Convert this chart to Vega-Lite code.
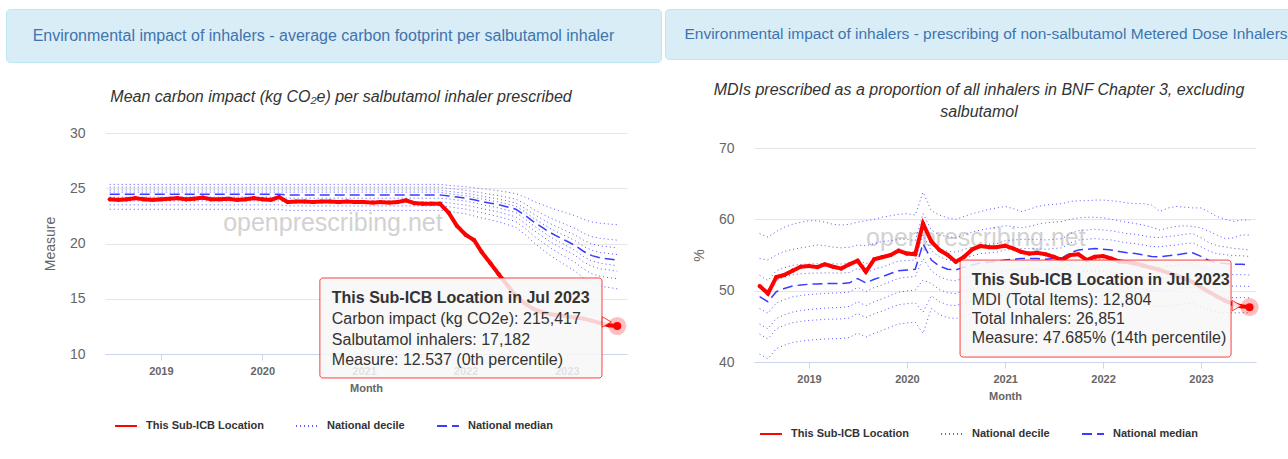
{
  "$schema": "https://vega.github.io/schema/vega-lite/v6.json",
  "padding": {"left": 5, "top": 8, "right": 0, "bottom": 0},
  "background": "white",
  "config": {
    "font": "Liberation Sans",
    "view": {"stroke": null},
    "concat": {"spacing": 2},
    "axisX": {"grid": false, "domainColor": "#ccd6eb", "tickColor": "#ccd6eb", "tickSize": 6, "labelFontSize": 11, "labelFontWeight": "bold", "labelColor": "#666666", "labelPadding": 5, "titleFontSize": 11, "titleFontWeight": "bold", "titleColor": "#666666", "titlePadding": 6, "labelFlush": false},
    "axisY": {"grid": true, "gridColor": "#e6e6e6", "domain": false, "ticks": false, "tickSize": 0, "labelFontSize": 14, "labelColor": "#666666", "labelPadding": 20, "titleFontSize": 14, "titleFontWeight": "normal", "titleColor": "#666666", "titlePadding": 12, "labelFlush": false},
    "legend": {"orient": "bottom", "direction": "horizontal", "offset": 21, "layout": {"bottom": {"anchor": "middle"}}, "labelFontSize": 11, "labelFontWeight": "bold", "labelColor": "#333333", "symbolType": "stroke", "symbolSize": 480, "symbolStrokeWidth": 2, "columnPadding": 28, "labelOffset": 8},
    "title": {"fontStyle": "italic", "fontWeight": "normal", "fontSize": 16, "color": "#333333", "anchor": "middle"}
  },
  "resolve": {"scale": {"color": "independent", "strokeDash": "independent"}, "legend": {"color": "independent", "strokeDash": "independent"}},
  "datasets": {
    "L": [
      {"d":"2018-07-01","r":24.0,"p10":23.1,"p20":23.5,"p30":23.85,"p40":24.2,"p50":24.45,"p60":24.65,"p70":24.85,"p80":25.1,"p90":25.35},
      {"d":"2018-08-01","r":23.95,"p10":23.1,"p20":23.5,"p30":23.85,"p40":24.2,"p50":24.45,"p60":24.65,"p70":24.85,"p80":25.1,"p90":25.35},
      {"d":"2018-09-01","r":24.0,"p10":23.1,"p20":23.5,"p30":23.85,"p40":24.2,"p50":24.45,"p60":24.65,"p70":24.85,"p80":25.1,"p90":25.35},
      {"d":"2018-10-01","r":24.1,"p10":23.1,"p20":23.5,"p30":23.85,"p40":24.2,"p50":24.45,"p60":24.65,"p70":24.85,"p80":25.1,"p90":25.35},
      {"d":"2018-11-01","r":24.0,"p10":23.1,"p20":23.5,"p30":23.85,"p40":24.2,"p50":24.45,"p60":24.65,"p70":24.85,"p80":25.1,"p90":25.35},
      {"d":"2018-12-01","r":23.95,"p10":23.1,"p20":23.5,"p30":23.85,"p40":24.2,"p50":24.45,"p60":24.65,"p70":24.85,"p80":25.1,"p90":25.35},
      {"d":"2019-01-01","r":24.0,"p10":23.1,"p20":23.5,"p30":23.85,"p40":24.2,"p50":24.45,"p60":24.65,"p70":24.85,"p80":25.1,"p90":25.35},
      {"d":"2019-02-01","r":24.05,"p10":23.1,"p20":23.5,"p30":23.85,"p40":24.2,"p50":24.45,"p60":24.65,"p70":24.85,"p80":25.1,"p90":25.35},
      {"d":"2019-03-01","r":24.1,"p10":23.1,"p20":23.5,"p30":23.85,"p40":24.2,"p50":24.45,"p60":24.65,"p70":24.85,"p80":25.1,"p90":25.35},
      {"d":"2019-04-01","r":24.0,"p10":23.1,"p20":23.5,"p30":23.85,"p40":24.2,"p50":24.45,"p60":24.65,"p70":24.85,"p80":25.1,"p90":25.35},
      {"d":"2019-05-01","r":24.05,"p10":23.1,"p20":23.5,"p30":23.85,"p40":24.2,"p50":24.45,"p60":24.65,"p70":24.85,"p80":25.1,"p90":25.35},
      {"d":"2019-06-01","r":24.15,"p10":23.1,"p20":23.5,"p30":23.85,"p40":24.2,"p50":24.45,"p60":24.65,"p70":24.85,"p80":25.1,"p90":25.35},
      {"d":"2019-07-01","r":24.0,"p10":23.1,"p20":23.5,"p30":23.85,"p40":24.2,"p50":24.45,"p60":24.65,"p70":24.85,"p80":25.1,"p90":25.35},
      {"d":"2019-08-01","r":24.0,"p10":23.1,"p20":23.5,"p30":23.85,"p40":24.2,"p50":24.45,"p60":24.65,"p70":24.85,"p80":25.1,"p90":25.35},
      {"d":"2019-09-01","r":24.05,"p10":23.1,"p20":23.5,"p30":23.85,"p40":24.2,"p50":24.45,"p60":24.65,"p70":24.85,"p80":25.1,"p90":25.35},
      {"d":"2019-10-01","r":23.95,"p10":23.1,"p20":23.5,"p30":23.85,"p40":24.2,"p50":24.45,"p60":24.65,"p70":24.85,"p80":25.1,"p90":25.35},
      {"d":"2019-11-01","r":24.0,"p10":23.1,"p20":23.5,"p30":23.85,"p40":24.2,"p50":24.45,"p60":24.65,"p70":24.85,"p80":25.1,"p90":25.35},
      {"d":"2019-12-01","r":24.1,"p10":23.1,"p20":23.5,"p30":23.85,"p40":24.2,"p50":24.45,"p60":24.65,"p70":24.85,"p80":25.1,"p90":25.35},
      {"d":"2020-01-01","r":24.0,"p10":23.1,"p20":23.5,"p30":23.85,"p40":24.2,"p50":24.45,"p60":24.65,"p70":24.85,"p80":25.1,"p90":25.35},
      {"d":"2020-02-01","r":23.95,"p10":23.1,"p20":23.5,"p30":23.85,"p40":24.2,"p50":24.45,"p60":24.65,"p70":24.85,"p80":25.1,"p90":25.35},
      {"d":"2020-03-01","r":24.2,"p10":23.1,"p20":23.5,"p30":23.85,"p40":24.2,"p50":24.45,"p60":24.65,"p70":24.85,"p80":25.1,"p90":25.35},
      {"d":"2020-04-01","r":23.75,"p10":23.0,"p20":23.4,"p30":23.75,"p40":24.1,"p50":24.4,"p60":24.65,"p70":24.85,"p80":25.1,"p90":25.35},
      {"d":"2020-05-01","r":23.8,"p10":23.0,"p20":23.4,"p30":23.75,"p40":24.1,"p50":24.4,"p60":24.65,"p70":24.85,"p80":25.1,"p90":25.35},
      {"d":"2020-06-01","r":23.8,"p10":23.0,"p20":23.4,"p30":23.75,"p40":24.1,"p50":24.4,"p60":24.65,"p70":24.85,"p80":25.1,"p90":25.35},
      {"d":"2020-07-01","r":23.75,"p10":23.0,"p20":23.4,"p30":23.75,"p40":24.1,"p50":24.4,"p60":24.65,"p70":24.85,"p80":25.1,"p90":25.35},
      {"d":"2020-08-01","r":23.8,"p10":23.0,"p20":23.4,"p30":23.75,"p40":24.1,"p50":24.4,"p60":24.65,"p70":24.85,"p80":25.1,"p90":25.35},
      {"d":"2020-09-01","r":23.8,"p10":23.0,"p20":23.4,"p30":23.75,"p40":24.1,"p50":24.4,"p60":24.65,"p70":24.85,"p80":25.1,"p90":25.35},
      {"d":"2020-10-01","r":23.75,"p10":23.0,"p20":23.4,"p30":23.75,"p40":24.1,"p50":24.4,"p60":24.65,"p70":24.85,"p80":25.1,"p90":25.35},
      {"d":"2020-11-01","r":23.8,"p10":23.0,"p20":23.4,"p30":23.75,"p40":24.1,"p50":24.4,"p60":24.65,"p70":24.85,"p80":25.1,"p90":25.35},
      {"d":"2020-12-01","r":23.75,"p10":23.0,"p20":23.4,"p30":23.75,"p40":24.1,"p50":24.4,"p60":24.65,"p70":24.85,"p80":25.1,"p90":25.35},
      {"d":"2021-01-01","r":23.75,"p10":23.0,"p20":23.4,"p30":23.75,"p40":24.1,"p50":24.4,"p60":24.65,"p70":24.85,"p80":25.1,"p90":25.35},
      {"d":"2021-02-01","r":23.7,"p10":23.0,"p20":23.4,"p30":23.75,"p40":24.1,"p50":24.4,"p60":24.65,"p70":24.85,"p80":25.1,"p90":25.35},
      {"d":"2021-03-01","r":23.75,"p10":23.0,"p20":23.4,"p30":23.75,"p40":24.1,"p50":24.4,"p60":24.65,"p70":24.85,"p80":25.1,"p90":25.35},
      {"d":"2021-04-01","r":23.7,"p10":23.0,"p20":23.4,"p30":23.75,"p40":24.1,"p50":24.4,"p60":24.65,"p70":24.85,"p80":25.1,"p90":25.35},
      {"d":"2021-05-01","r":23.75,"p10":23.0,"p20":23.4,"p30":23.75,"p40":24.1,"p50":24.4,"p60":24.65,"p70":24.85,"p80":25.1,"p90":25.35},
      {"d":"2021-06-01","r":23.9,"p10":23.0,"p20":23.4,"p30":23.75,"p40":24.1,"p50":24.4,"p60":24.65,"p70":24.85,"p80":25.1,"p90":25.35},
      {"d":"2021-07-01","r":23.65,"p10":23.0,"p20":23.4,"p30":23.75,"p40":24.1,"p50":24.4,"p60":24.65,"p70":24.85,"p80":25.1,"p90":25.35},
      {"d":"2021-08-01","r":23.6,"p10":23.0,"p20":23.4,"p30":23.75,"p40":24.1,"p50":24.4,"p60":24.65,"p70":24.85,"p80":25.1,"p90":25.35},
      {"d":"2021-09-01","r":23.6,"p10":23.0,"p20":23.4,"p30":23.75,"p40":24.1,"p50":24.4,"p60":24.65,"p70":24.85,"p80":25.1,"p90":25.35},
      {"d":"2021-10-01","r":23.6,"p10":23.0,"p20":23.4,"p30":23.75,"p40":24.1,"p50":24.4,"p60":24.65,"p70":24.85,"p80":25.1,"p90":25.35},
      {"d":"2021-11-01","r":22.8,"p10":22.92,"p20":23.33,"p30":23.69,"p40":24.04,"p50":24.3,"p60":24.51,"p70":24.72,"p80":24.98,"p90":25.26},
      {"d":"2021-12-01","r":21.6,"p10":22.8,"p20":23.22,"p30":23.58,"p40":23.94,"p50":24.2,"p60":24.41,"p70":24.63,"p80":24.9,"p90":25.2},
      {"d":"2022-01-01","r":20.8,"p10":22.68,"p20":23.11,"p30":23.48,"p40":23.84,"p50":24.1,"p60":24.32,"p70":24.54,"p80":24.82,"p90":25.14},
      {"d":"2022-02-01","r":20.3,"p10":22.49,"p20":22.94,"p30":23.32,"p40":23.68,"p50":23.95,"p60":24.17,"p70":24.41,"p80":24.7,"p90":25.04},
      {"d":"2022-03-01","r":19.2,"p10":22.31,"p20":22.77,"p30":23.16,"p40":23.52,"p50":23.8,"p60":24.03,"p70":24.28,"p80":24.58,"p90":24.95},
      {"d":"2022-04-01","r":18.2,"p10":22.13,"p20":22.6,"p30":23.0,"p40":23.37,"p50":23.65,"p60":23.89,"p70":24.14,"p80":24.45,"p90":24.86},
      {"d":"2022-05-01","r":17.2,"p10":21.95,"p20":22.43,"p30":22.84,"p40":23.21,"p50":23.5,"p60":23.75,"p70":24.01,"p80":24.33,"p90":24.77},
      {"d":"2022-06-01","r":16.2,"p10":21.71,"p20":22.21,"p30":22.62,"p40":23.0,"p50":23.3,"p60":23.56,"p70":23.84,"p80":24.17,"p90":24.65},
      {"d":"2022-07-01","r":15.3,"p10":21.47,"p20":21.98,"p30":22.41,"p40":22.79,"p50":23.1,"p60":23.37,"p70":23.66,"p80":24.01,"p90":24.52},
      {"d":"2022-08-01","r":14.6,"p10":20.86,"p20":21.42,"p30":21.88,"p40":22.27,"p50":22.6,"p60":22.89,"p70":23.22,"p80":23.61,"p90":24.22},
      {"d":"2022-09-01","r":14.1,"p10":20.14,"p20":20.74,"p30":21.24,"p40":21.65,"p50":22.0,"p60":22.32,"p70":22.69,"p80":23.12,"p90":23.85},
      {"d":"2022-10-01","r":13.8,"p10":19.53,"p20":20.18,"p30":20.7,"p40":21.13,"p50":21.5,"p60":21.85,"p70":22.25,"p80":22.72,"p90":23.54},
      {"d":"2022-11-01","r":13.6,"p10":18.93,"p20":19.62,"p30":20.17,"p40":20.61,"p50":21.0,"p60":21.37,"p70":21.81,"p80":22.32,"p90":23.24},
      {"d":"2022-12-01","r":13.5,"p10":18.44,"p20":19.16,"p30":19.74,"p40":20.19,"p50":20.6,"p60":20.99,"p70":21.45,"p80":21.99,"p90":22.99},
      {"d":"2023-01-01","r":13.4,"p10":17.96,"p20":18.71,"p30":19.32,"p40":19.77,"p50":20.2,"p60":20.61,"p70":21.1,"p80":21.67,"p90":22.74},
      {"d":"2023-02-01","r":13.3,"p10":17.47,"p20":18.26,"p30":18.89,"p40":19.35,"p50":19.8,"p60":20.23,"p70":20.75,"p80":21.35,"p90":22.5},
      {"d":"2023-03-01","r":13.2,"p10":16.87,"p20":17.7,"p30":18.35,"p40":18.83,"p50":19.3,"p60":19.76,"p70":20.31,"p80":20.94,"p90":22.19},
      {"d":"2023-04-01","r":13.0,"p10":16.38,"p20":17.25,"p30":17.93,"p40":18.42,"p50":18.9,"p60":19.38,"p70":19.95,"p80":20.62,"p90":21.95},
      {"d":"2023-05-01","r":12.8,"p10":16.14,"p20":17.03,"p30":17.71,"p40":18.21,"p50":18.7,"p60":19.19,"p70":19.78,"p80":20.46,"p90":21.83},
      {"d":"2023-06-01","r":12.6,"p10":16.02,"p20":16.91,"p30":17.61,"p40":18.1,"p50":18.6,"p60":19.09,"p70":19.69,"p80":20.38,"p90":21.76},
      {"d":"2023-07-01","r":12.537,"p10":15.9,"p20":16.8,"p30":17.5,"p40":18.0,"p50":18.5,"p60":19.0,"p70":19.6,"p80":20.3,"p90":21.7}
    ],
    "R": [
      {"d":"2018-07-01","r":50.65,"p10":41.1,"p20":43.9,"p30":45.3,"p40":47.5,"p50":49.15,"p60":50.8,"p70":52.15,"p80":54.5,"p90":58.0},
      {"d":"2018-08-01","r":49.6,"p10":40.43,"p20":43.23,"p30":44.65,"p40":46.83,"p50":48.45,"p60":50.08,"p70":51.42,"p80":54.3,"p90":57.5},
      {"d":"2018-09-01","r":51.9,"p10":41.87,"p20":44.66,"p30":46.1,"p40":48.27,"p50":49.85,"p60":51.46,"p70":52.8,"p80":55.0,"p90":58.3},
      {"d":"2018-10-01","r":52.2,"p10":42.35,"p20":45.14,"p30":46.6,"p40":48.75,"p50":50.3,"p60":51.89,"p70":53.22,"p80":55.5,"p90":58.9},
      {"d":"2018-11-01","r":52.8,"p10":42.74,"p20":45.52,"p30":47.0,"p40":49.14,"p50":50.65,"p60":52.23,"p70":53.55,"p80":55.8,"p90":59.3},
      {"d":"2018-12-01","r":53.35,"p10":42.92,"p20":45.69,"p30":47.2,"p40":49.32,"p50":50.8,"p60":52.36,"p70":53.67,"p80":56.0,"p90":59.6},
      {"d":"2019-01-01","r":53.45,"p10":43.06,"p20":45.82,"p30":47.35,"p40":49.46,"p50":50.9,"p60":52.44,"p70":53.74,"p80":56.2,"p90":59.8},
      {"d":"2019-02-01","r":53.3,"p10":43.14,"p20":45.9,"p30":47.45,"p40":49.54,"p50":50.95,"p60":52.47,"p70":53.77,"p80":56.4,"p90":59.8},
      {"d":"2019-03-01","r":53.7,"p10":43.22,"p20":45.98,"p30":47.55,"p40":49.62,"p50":51.0,"p60":52.5,"p70":53.79,"p80":56.3,"p90":59.6},
      {"d":"2019-04-01","r":53.35,"p10":43.26,"p20":46.01,"p30":47.6,"p40":49.66,"p50":51.0,"p60":52.48,"p70":53.76,"p80":56.1,"p90":59.3},
      {"d":"2019-05-01","r":53.1,"p10":43.29,"p20":46.04,"p30":47.65,"p40":49.69,"p50":51.0,"p60":52.47,"p70":53.74,"p80":56.0,"p90":59.2},
      {"d":"2019-06-01","r":53.7,"p10":43.43,"p20":46.17,"p30":47.8,"p40":49.83,"p50":51.1,"p60":52.55,"p70":53.81,"p80":56.1,"p90":59.3},
      {"d":"2019-07-01","r":54.2,"p10":44.06,"p20":46.8,"p30":48.45,"p40":50.46,"p50":51.7,"p60":53.13,"p70":54.38,"p80":56.4,"p90":59.6},
      {"d":"2019-08-01","r":52.65,"p10":43.49,"p20":46.23,"p30":47.9,"p40":49.89,"p50":51.1,"p60":52.51,"p70":53.76,"p80":56.3,"p90":59.8},
      {"d":"2019-09-01","r":54.4,"p10":44.03,"p20":46.76,"p30":48.45,"p40":50.43,"p50":51.6,"p60":52.99,"p70":54.23,"p80":56.6,"p90":60.0},
      {"d":"2019-10-01","r":54.7,"p10":44.41,"p20":47.13,"p30":48.85,"p40":50.81,"p50":51.95,"p60":53.32,"p70":54.56,"p80":56.9,"p90":60.3},
      {"d":"2019-11-01","r":55.0,"p10":44.9,"p20":47.61,"p30":49.35,"p40":51.3,"p50":52.4,"p60":53.76,"p70":54.98,"p80":57.0,"p90":60.5},
      {"d":"2019-12-01","r":55.6,"p10":45.33,"p20":48.04,"p30":49.8,"p40":51.73,"p50":52.8,"p60":54.14,"p70":55.35,"p80":57.2,"p90":60.7},
      {"d":"2020-01-01","r":55.2,"p10":45.47,"p20":48.17,"p30":49.95,"p40":51.87,"p50":52.9,"p60":54.22,"p70":55.43,"p80":57.2,"p90":60.8},
      {"d":"2020-02-01","r":55.1,"p10":45.6,"p20":48.3,"p30":50.1,"p40":52.0,"p50":53.0,"p60":54.3,"p70":55.5,"p80":57.0,"p90":60.6},
      {"d":"2020-03-01","r":59.4,"p10":44.0,"p20":47.0,"p30":51.5,"p40":54.5,"p50":56.6,"p60":57.8,"p70":59.0,"p80":60.8,"p90":63.8},
      {"d":"2020-04-01","r":56.9,"p10":47.5,"p20":49.3,"p30":51.0,"p40":52.8,"p50":54.3,"p60":55.6,"p70":56.8,"p80":58.5,"p90":61.2},
      {"d":"2020-05-01","r":55.7,"p10":46.65,"p20":48.45,"p30":50.15,"p40":51.95,"p50":53.45,"p60":54.75,"p70":55.95,"p80":57.8,"p90":60.6},
      {"d":"2020-06-01","r":55.0,"p10":46.2,"p20":48.0,"p30":49.7,"p40":51.5,"p50":53.0,"p60":54.3,"p70":55.5,"p80":57.6,"p90":60.2},
      {"d":"2020-07-01","r":54.05,"p10":46.1,"p20":47.9,"p30":49.6,"p40":51.4,"p50":52.9,"p60":54.2,"p70":55.4,"p80":57.4,"p90":60.0},
      {"d":"2020-08-01","r":54.75,"p10":46.5,"p20":48.3,"p30":50.0,"p40":51.8,"p50":53.3,"p60":54.6,"p70":55.8,"p80":57.8,"p90":60.4},
      {"d":"2020-09-01","r":55.8,"p10":46.8,"p20":48.6,"p30":50.3,"p40":52.1,"p50":53.6,"p60":54.9,"p70":56.1,"p80":58.2,"p90":60.8},
      {"d":"2020-10-01","r":56.25,"p10":47.1,"p20":48.9,"p30":50.6,"p40":52.4,"p50":53.9,"p60":55.2,"p70":56.4,"p80":58.5,"p90":61.1},
      {"d":"2020-11-01","r":56.1,"p10":47.2,"p20":49.0,"p30":50.7,"p40":52.5,"p50":54.0,"p60":55.3,"p70":56.5,"p80":58.7,"p90":61.4},
      {"d":"2020-12-01","r":56.1,"p10":47.3,"p20":49.1,"p30":50.8,"p40":52.6,"p50":54.1,"p60":55.4,"p70":56.6,"p80":58.9,"p90":61.6},
      {"d":"2021-01-01","r":56.3,"p10":47.3,"p20":49.5,"p30":51.2,"p40":52.8,"p50":54.3,"p60":55.7,"p70":57.0,"p80":59.1,"p90":61.8},
      {"d":"2021-02-01","r":55.9,"p10":47.4,"p20":49.6,"p30":51.3,"p40":52.9,"p50":54.4,"p60":55.8,"p70":57.1,"p80":59.0,"p90":61.5},
      {"d":"2021-03-01","r":55.45,"p10":47.5,"p20":49.7,"p30":51.4,"p40":53.0,"p50":54.5,"p60":55.9,"p70":57.2,"p80":58.8,"p90":61.1},
      {"d":"2021-04-01","r":55.2,"p10":47.5,"p20":49.7,"p30":51.4,"p40":53.0,"p50":54.5,"p60":55.9,"p70":57.2,"p80":59.0,"p90":61.4},
      {"d":"2021-05-01","r":55.3,"p10":47.5,"p20":49.7,"p30":51.4,"p40":53.0,"p50":54.5,"p60":55.9,"p70":57.2,"p80":59.3,"p90":61.8},
      {"d":"2021-06-01","r":55.1,"p10":47.4,"p20":49.6,"p30":51.3,"p40":52.9,"p50":54.4,"p60":55.8,"p70":57.1,"p80":59.5,"p90":62.0},
      {"d":"2021-07-01","r":54.75,"p10":47.5,"p20":49.7,"p30":51.4,"p40":53.0,"p50":54.5,"p60":55.9,"p70":57.2,"p80":59.6,"p90":62.1},
      {"d":"2021-08-01","r":54.3,"p10":47.6,"p20":49.8,"p30":51.5,"p40":53.1,"p50":54.6,"p60":56.0,"p70":57.3,"p80":59.7,"p90":62.2},
      {"d":"2021-09-01","r":55.0,"p10":48.3,"p20":50.5,"p30":52.2,"p40":53.8,"p50":55.3,"p60":56.7,"p70":58.0,"p80":60.0,"p90":62.5},
      {"d":"2021-10-01","r":55.1,"p10":48.7,"p20":50.9,"p30":52.6,"p40":54.2,"p50":55.7,"p60":57.1,"p70":58.4,"p80":60.2,"p90":62.6},
      {"d":"2021-11-01","r":54.3,"p10":48.8,"p20":51.0,"p30":52.7,"p40":54.3,"p50":55.8,"p60":57.2,"p70":58.5,"p80":60.3,"p90":62.6},
      {"d":"2021-12-01","r":54.75,"p10":48.9,"p20":51.1,"p30":52.8,"p40":54.4,"p50":55.9,"p60":57.3,"p70":58.6,"p80":60.3,"p90":62.7},
      {"d":"2022-01-01","r":54.85,"p10":48.8,"p20":51.0,"p30":52.7,"p40":54.3,"p50":55.8,"p60":57.2,"p70":58.5,"p80":60.2,"p90":62.7},
      {"d":"2022-02-01","r":54.5,"p10":48.7,"p20":50.9,"p30":52.6,"p40":54.2,"p50":55.7,"p60":57.1,"p70":58.4,"p80":60.0,"p90":62.6},
      {"d":"2022-03-01","r":54.1,"p10":48.5,"p20":50.7,"p30":52.4,"p40":54.0,"p50":55.5,"p60":56.9,"p70":58.2,"p80":59.8,"p90":62.5},
      {"d":"2022-04-01","r":54.0,"p10":48.3,"p20":50.5,"p30":52.2,"p40":53.8,"p50":55.3,"p60":56.7,"p70":58.0,"p80":59.6,"p90":62.3},
      {"d":"2022-05-01","r":53.8,"p10":48.2,"p20":50.4,"p30":52.1,"p40":53.7,"p50":55.2,"p60":56.6,"p70":57.9,"p80":59.4,"p90":62.2},
      {"d":"2022-06-01","r":53.5,"p10":48.0,"p20":50.2,"p30":51.9,"p40":53.5,"p50":55.0,"p60":56.4,"p70":57.7,"p80":59.2,"p90":62.2},
      {"d":"2022-07-01","r":53.2,"p10":47.8,"p20":50.0,"p30":51.7,"p40":53.3,"p50":54.8,"p60":56.2,"p70":57.5,"p80":58.9,"p90":62.0},
      {"d":"2022-08-01","r":52.9,"p10":47.75,"p20":49.95,"p30":51.65,"p40":53.25,"p50":54.75,"p60":56.15,"p70":57.45,"p80":58.5,"p90":61.1},
      {"d":"2022-09-01","r":52.5,"p10":47.9,"p20":50.1,"p30":51.8,"p40":53.4,"p50":54.9,"p60":56.3,"p70":57.6,"p80":58.8,"p90":61.6},
      {"d":"2022-10-01","r":52.1,"p10":48.0,"p20":50.2,"p30":51.9,"p40":53.5,"p50":55.0,"p60":56.4,"p70":57.7,"p80":59.0,"p90":61.8},
      {"d":"2022-11-01","r":51.7,"p10":48.2,"p20":50.4,"p30":52.1,"p40":53.7,"p50":55.2,"p60":56.6,"p70":57.9,"p80":59.1,"p90":61.7},
      {"d":"2022-12-01","r":51.2,"p10":48.3,"p20":50.5,"p30":52.2,"p40":53.8,"p50":55.3,"p60":56.7,"p70":58.0,"p80":59.0,"p90":61.6},
      {"d":"2023-01-01","r":50.5,"p10":47.84,"p20":50.02,"p30":51.71,"p40":53.31,"p50":54.8,"p60":56.16,"p70":57.41,"p80":58.8,"p90":61.6},
      {"d":"2023-02-01","r":49.8,"p10":47.27,"p20":49.44,"p30":51.11,"p40":52.71,"p50":54.2,"p60":55.53,"p70":56.71,"p80":58.3,"p90":61.0},
      {"d":"2023-03-01","r":49.2,"p10":47.01,"p20":49.16,"p30":50.82,"p40":52.42,"p50":53.9,"p60":55.19,"p70":56.32,"p80":57.8,"p90":60.4},
      {"d":"2023-04-01","r":48.6,"p10":46.94,"p20":49.09,"p30":50.73,"p40":52.33,"p50":53.8,"p60":55.06,"p70":56.13,"p80":57.3,"p90":60.0},
      {"d":"2023-05-01","r":48.1,"p10":46.88,"p20":49.01,"p30":50.64,"p40":52.24,"p50":53.7,"p60":54.92,"p70":55.94,"p80":57.4,"p90":59.7},
      {"d":"2023-06-01","r":47.8,"p10":46.91,"p20":49.03,"p30":50.64,"p40":52.24,"p50":53.7,"p60":54.89,"p70":55.84,"p80":57.8,"p90":59.9},
      {"d":"2023-07-01","r":47.685,"p10":46.9,"p20":49.0,"p30":50.6,"p40":52.2,"p50":53.65,"p60":54.8,"p70":55.7,"p80":57.8,"p90":59.85}
    ]
  },
  "hconcat": [
    {
      "spacing": 26,
      "vconcat": [
        {
          "width": 655,
          "height": 53,
          "view": {"fill": "#d9edf7", "stroke": "#bce8f1", "cornerRadius": 4},
          "data": {"values": [{"t": "Environmental impact of inhalers - average carbon footprint per salbutamol inhaler"}]},
          "mark": {"type": "text", "fontSize": 16, "color": "#3f74ad", "dx": -10},
          "encoding": {"text": {"field": "t", "type": "nominal"}}
        },
        {
          "spacing": 0,
          "hconcat": [
            {"width": 37, "height": 10, "data": {"values": []}, "mark": "point"},
            {
              "width": 522,
              "height": 221,
              "title": {"text": "Mean carbon impact (kg CO₂e) per salbutamol inhaler prescribed", "offset": 21, "dx": -25},
              "encoding": {
                "x": {"field": "d", "type": "temporal", "title": "Month",
                      "scale": {"type": "utc", "domain": [{"year": 2018, "month": 6, "date": 14, "utc": true}, {"year": 2023, "month": 8, "date": 5, "utc": true}]},
                      "axis": {"values": [{"year": 2019, "utc": true}, {"year": 2020, "utc": true}, {"year": 2021, "utc": true}, {"year": 2022, "utc": true}, {"year": 2023, "utc": true}], "format": "%Y"}},
                "y": {"field": "v", "type": "quantitative", "title": "Measure", "scale": {"domain": [10, 30]}, "axis": {"values": [10, 15, 20, 25, 30]}}
              },
              "layer": [
                {
                  "data": {"values": [{"d": "2020-09-11", "v": 21.85, "t": "openprescribing.net"}]},
                  "mark": {"type": "text", "fontSize": 25, "color": "#d2d2d2"},
                  "encoding": {"text": {"field": "t", "type": "nominal"}}
                },
                {
                  "data": {"name": "L"},
                  "transform": [{"fold": ["p10", "p20", "p30", "p40", "p60", "p70", "p80", "p90"], "as": ["k", "v"]}],
                  "mark": {"type": "line", "strokeWidth": 1},
                  "encoding": {
                    "detail": {"field": "k", "type": "nominal"},
                    "color": {"datum": "National decile", "type": "nominal", "title": null, "scale": {"domain": ["This Sub-ICB Location", "National decile", "National median"], "range": ["#ff0000", "#5555ff", "#3b3bff"]}},
                    "strokeDash": {"datum": "National decile", "type": "nominal", "title": null, "scale": {"domain": ["This Sub-ICB Location", "National decile", "National median"], "range": [[1, 0], [1, 3], [10, 5]]}}
                  }
                },
                {
                  "data": {"name": "L"},
                  "transform": [{"fold": ["p50"], "as": ["k", "v"]}],
                  "mark": {"type": "line", "strokeWidth": 1.5},
                  "encoding": {
                    "color": {"datum": "National median", "type": "nominal", "title": null},
                    "strokeDash": {"datum": "National median", "type": "nominal", "title": null}
                  }
                },
                {
                  "data": {"name": "L"},
                  "transform": [{"fold": ["r"], "as": ["k", "v"]}],
                  "mark": {"type": "line", "strokeWidth": 4, "point": {"filled": true, "size": 18}},
                  "encoding": {
                    "color": {"datum": "This Sub-ICB Location", "type": "nominal", "title": null},
                    "strokeDash": {"datum": "This Sub-ICB Location", "type": "nominal", "title": null}
                  }
                },
                {
                  "data": {"values": [{"d": "2023-07-01", "v": 12.537}]},
                  "mark": {"type": "point", "filled": true, "size": 330, "color": "#ff0000", "opacity": 0.25}
                },
                {
                  "data": {"values": [{"d": "2023-07-01", "v": 12.537}]},
                  "mark": {"type": "point", "filled": true, "size": 64, "color": "#ff0000", "opacity": 1}
                },
                {
                  "data": {"values": [{"d": "2020-07-26", "d2": "2023-05-07", "v": 16.88, "v2": 7.83}]},
                  "mark": {"type": "rect", "fill": "#f7f7f7", "fillOpacity": 0.85, "stroke": "#ff0000", "strokeOpacity": 0.75, "strokeWidth": 1, "cornerRadius": 3},
                  "encoding": {"x2": {"field": "d2"}, "y2": {"field": "v2"}}
                },
                {
                  "data": {"values": [{"d": "2023-05-24", "v": 12.9}]},
                  "mark": {"type": "point", "shape": "triangle-right", "filled": true, "size": 110, "fill": "#f7f7f7", "fillOpacity": 0.9, "stroke": "#ff0000", "strokeOpacity": 0.75, "strokeWidth": 1}
                },
                {
                  "data": {"values": [{"d": "2020-09-07", "v": 15.1, "t": "This Sub-ICB Location in Jul 2023"}]},
                  "mark": {"type": "text", "align": "left", "baseline": "middle", "fontSize": 16, "fontWeight": "bold", "color": "#333333"},
                  "encoding": {"text": {"field": "t", "type": "nominal"}}
                },
                {
                  "data": {"values": [
                    {"d": "2020-09-07", "v": 13.2, "t": "Carbon impact (kg CO2e): 215,417"},
                    {"d": "2020-09-07", "v": 11.3, "t": "Salbutamol inhalers: 17,182"},
                    {"d": "2020-09-07", "v": 9.45, "t": "Measure: 12.537 (0th percentile)"}
                  ]},
                  "mark": {"type": "text", "align": "left", "baseline": "middle", "fontSize": 16, "color": "#333333"},
                  "encoding": {"text": {"field": "t", "type": "nominal"}}
                }
              ]
            }
          ]
        }
      ]
    },
    {
      "spacing": 22,
      "vconcat": [
        {
          "width": 626,
          "height": 50,
          "view": {"fill": "#d9edf7", "stroke": "#bce8f1", "cornerRadius": 4},
          "data": {"values": [{"t": "Environmental impact of inhalers - prescribing of non-salbutamol Metered Dose Inhalers"}]},
          "mark": {"type": "text", "fontSize": 15.5, "color": "#3f74ad", "dx": 8},
          "encoding": {"text": {"field": "t", "type": "nominal"}}
        },
        {
          "spacing": 0,
          "hconcat": [
            {"width": 27, "height": 10, "data": {"values": []}, "mark": "point"},
            {
              "width": 502,
              "height": 214,
              "title": {"text": ["MDIs prescribed as a proportion of all inhalers in BNF Chapter 3, excluding", "salbutamol"], "offset": 21, "lineHeight": 22, "dx": -26},
              "encoding": {
                "x": {"field": "d", "type": "temporal", "title": "Month",
                      "scale": {"type": "utc", "domain": [{"year": 2018, "month": 6, "date": 10, "utc": true}, {"year": 2023, "month": 7, "date": 25, "utc": true}]},
                      "axis": {"values": [{"year": 2019, "utc": true}, {"year": 2020, "utc": true}, {"year": 2021, "utc": true}, {"year": 2022, "utc": true}, {"year": 2023, "utc": true}], "format": "%Y"}},
                "y": {"field": "v", "type": "quantitative", "title": "%", "scale": {"domain": [40, 70]}, "axis": {"values": [40, 50, 60, 70]}}
              },
              "layer": [
                {
                  "data": {"values": [{"d": "2020-09-14", "v": 57.4, "t": "openprescribing.net"}]},
                  "mark": {"type": "text", "fontSize": 25, "color": "#d2d2d2"},
                  "encoding": {"text": {"field": "t", "type": "nominal"}}
                },
                {
                  "data": {"name": "R"},
                  "transform": [{"fold": ["p10", "p20", "p30", "p40", "p60", "p70", "p80", "p90"], "as": ["k", "v"]}],
                  "mark": {"type": "line", "strokeWidth": 1},
                  "encoding": {
                    "detail": {"field": "k", "type": "nominal"},
                    "color": {"datum": "National decile", "type": "nominal", "title": null, "scale": {"domain": ["This Sub-ICB Location", "National decile", "National median"], "range": ["#ff0000", "#5555ff", "#3b3bff"]}},
                    "strokeDash": {"datum": "National decile", "type": "nominal", "title": null, "scale": {"domain": ["This Sub-ICB Location", "National decile", "National median"], "range": [[1, 0], [1, 3], [10, 5]]}}
                  }
                },
                {
                  "data": {"name": "R"},
                  "transform": [{"fold": ["p50"], "as": ["k", "v"]}],
                  "mark": {"type": "line", "strokeWidth": 1.5},
                  "encoding": {
                    "color": {"datum": "National median", "type": "nominal", "title": null},
                    "strokeDash": {"datum": "National median", "type": "nominal", "title": null}
                  }
                },
                {
                  "data": {"name": "R"},
                  "transform": [{"fold": ["r"], "as": ["k", "v"]}],
                  "mark": {"type": "line", "strokeWidth": 4, "point": {"filled": true, "size": 18}},
                  "encoding": {
                    "color": {"datum": "This Sub-ICB Location", "type": "nominal", "title": null},
                    "strokeDash": {"datum": "This Sub-ICB Location", "type": "nominal", "title": null}
                  }
                },
                {
                  "data": {"values": [{"d": "2023-07-01", "v": 47.685}]},
                  "mark": {"type": "point", "filled": true, "size": 330, "color": "#ff0000", "opacity": 0.25}
                },
                {
                  "data": {"values": [{"d": "2023-07-01", "v": 47.685}]},
                  "mark": {"type": "point", "filled": true, "size": 64, "color": "#ff0000", "opacity": 1}
                },
                {
                  "data": {"values": [{"d": "2020-07-17", "d2": "2023-04-23", "v": 54.29, "v2": 40.69}]},
                  "mark": {"type": "rect", "fill": "#f7f7f7", "fillOpacity": 0.85, "stroke": "#ff0000", "strokeOpacity": 0.75, "strokeWidth": 1, "cornerRadius": 3},
                  "encoding": {"x2": {"field": "d2"}, "y2": {"field": "v2"}}
                },
                {
                  "data": {"values": [{"d": "2023-05-14", "v": 47.9}]},
                  "mark": {"type": "point", "shape": "triangle-right", "filled": true, "size": 110, "fill": "#f7f7f7", "fillOpacity": 0.9, "stroke": "#ff0000", "strokeOpacity": 0.75, "strokeWidth": 1}
                },
                {
                  "data": {"values": [{"d": "2020-08-30", "v": 51.49, "t": "This Sub-ICB Location in Jul 2023"}]},
                  "mark": {"type": "text", "align": "left", "baseline": "middle", "fontSize": 16, "fontWeight": "bold", "color": "#333333"},
                  "encoding": {"text": {"field": "t", "type": "nominal"}}
                },
                {
                  "data": {"values": [
                    {"d": "2020-08-30", "v": 48.68, "t": "MDI (Total Items): 12,804"},
                    {"d": "2020-08-30", "v": 46.02, "t": "Total Inhalers: 26,851"},
                    {"d": "2020-08-30", "v": 43.35, "t": "Measure: 47.685% (14th percentile)"}
                  ]},
                  "mark": {"type": "text", "align": "left", "baseline": "middle", "fontSize": 16, "color": "#333333"},
                  "encoding": {"text": {"field": "t", "type": "nominal"}}
                }
              ]
            }
          ]
        }
      ]
    }
  ]
}
